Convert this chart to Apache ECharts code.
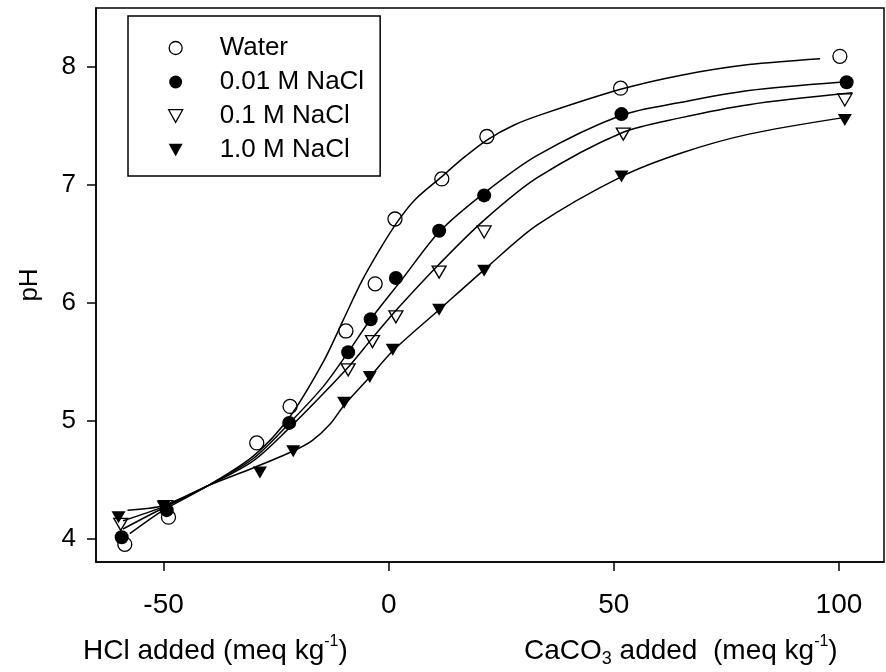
<!DOCTYPE html>
<html>
<head>
<meta charset="utf-8">
<script src="https://cdn.jsdelivr.net/npm/echarts@6/dist/echarts.min.js"></script>
<style>
  html, body { margin: 0; padding: 0; background: #fff; }
  #chart { width: 886px; height: 672px; }
</style>
</head>
<body>
<div id="chart"></div>
<script>
// measured points: [added (meq/kg, HCl < 0, CaCO3 > 0), pH]
const waterPts = [[-58.6, 3.95], [-48.9, 4.18], [-29.3, 4.81], [-21.9, 5.12], [-9.5, 5.76], [-3.0, 6.16],
  [1.4, 6.71], [11.8, 7.05], [21.8, 7.41], [51.5, 7.82], [100.2, 8.09]];
const nacl001Pts = [[-59.3, 4.01], [-49.3, 4.24], [-22.1, 4.98], [-9.0, 5.58], [-4.0, 5.86], [1.6, 6.21],
  [11.2, 6.61], [21.2, 6.91], [51.7, 7.60], [101.7, 7.87]];
const nacl01Pts = [[-59.5, 4.12], [-49.5, 4.27], [-9.0, 5.43], [-3.6, 5.67], [1.6, 5.88], [11.2, 6.26],
  [21.2, 6.60], [52.1, 7.43], [101.3, 7.72]];
const nacl10Pts = [[-60.0, 4.18], [-50.0, 4.27], [-28.6, 4.56], [-21.2, 4.74], [-9.9, 5.15], [-4.2, 5.37],
  [0.9, 5.60], [11.2, 5.94], [21.2, 6.27], [51.7, 7.07], [101.3, 7.55]];

// fitted curves
const waterFit = [[-57.5, 4.04], [-50, 4.24], [-40, 4.45], [-30, 4.70], [-22, 5.03], [-14.5, 5.50],
  [-10, 5.86], [-6, 6.18], [-2, 6.45], [2, 6.69], [6, 6.88], [11.8, 7.07], [16, 7.21], [21.8, 7.38],
  [28, 7.51], [35, 7.61], [51.5, 7.81], [65, 7.93], [80, 8.02], [95.8, 8.07]];
const nacl001Fit = [[-59, 4.08], [-50, 4.26], [-40, 4.45], [-30, 4.68], [-22, 4.98], [-14.5, 5.29],
  [-9, 5.58], [-4, 5.86], [3, 6.20], [11.2, 6.60], [21.2, 6.93], [33, 7.25],
  [51.7, 7.59], [65, 7.70], [80, 7.80], [100.2, 7.87]];
const nacl01Fit = [[-59, 4.15], [-50, 4.27], [-40, 4.45], [-30, 4.66], [-22, 4.94], [-14.5, 5.23],
  [-8.6, 5.47], [-3.4, 5.71], [2, 5.95], [11.3, 6.33], [21.2, 6.70], [33, 7.06],
  [51.7, 7.44], [65, 7.57], [80, 7.68], [103, 7.78]];
const nacl10Fit = [[-58, 4.24], [-50, 4.28], [-40, 4.45], [-30, 4.60], [-21.3, 4.74], [-17, 4.83],
  [-13, 4.97], [-9.9, 5.13], [-4.2, 5.37], [0.9, 5.59], [11.2, 5.94], [21.8, 6.30], [33, 6.66],
  [51.7, 7.07], [65, 7.27], [80, 7.43], [101, 7.57]];

const names = ["Water", "0.01 M NaCl", "0.1 M NaCl", "1.0 M NaCl"];
const xTicks = [-50, 0, 50, 100];
const yTicks = [4, 5, 6, 7, 8];

const TRI = "path://M0,0L10,0L5,9Z";
const narrow = '"Liberation Sans Narrow", "Arial Narrow", Arial, sans-serif';
const regular = '"Liberation Sans", Arial, sans-serif';

const markStyles = [
  { symbol: "circle", size: 14, item: { color: "rgba(0,0,0,0)", borderColor: "#000", borderWidth: 1.3, opacity: 1 } },
  { symbol: "circle", size: 14, item: { color: "#000", opacity: 1 } },
  { symbol: TRI, size: [14, 12], item: { color: "rgba(0,0,0,0)", borderColor: "#000", borderWidth: 1.3, opacity: 1 } },
  { symbol: TRI, size: [14, 12], item: { color: "#000", opacity: 1 } },
];

const pts = [waterPts, nacl001Pts, nacl01Pts, nacl10Pts];
const fits = [waterFit, nacl001Fit, nacl01Fit, nacl10Fit];

const chart = echarts.init(document.getElementById("chart"));

const series = [];
fits.forEach((f, i) => {
  series.push({
    name: names[i] + " fit",
    type: "line",
    data: f,
    smooth: 0.3,
    showSymbol: false,
    silent: true,
    z: 2,
    lineStyle: { color: "#000", width: 1.5 },
  });
});
pts.forEach((p, i) => {
  series.push({
    name: names[i],
    type: "scatter",
    data: p,
    symbol: markStyles[i].symbol,
    symbolSize: markStyles[i].size,
    itemStyle: markStyles[i].item,
    z: 3,
  });
});

chart.setOption({
  backgroundColor: "#fff",
  animation: false,
  grid: {
    left: 96, right: 2, top: 8, bottom: 110,
    show: true, borderColor: "#000", borderWidth: 1.5,
  },
  legend: {
    left: 128, top: 16,
    orient: "vertical",
    backgroundColor: "#fff",
    borderColor: "#000",
    borderWidth: 1.5,
    borderRadius: 0,
    padding: [19, 16, 13, 40],
    itemWidth: 14,
    itemHeight: 13,
    itemGap: 8,
    selectedMode: false,
    textStyle: { fontFamily: regular, fontSize: 26, color: "#000", lineHeight: 26, padding: [0, 0, 0, 32] },
    data: names.map((n, i) => ({
      name: n,
      icon: markStyles[i].symbol,
      itemStyle: markStyles[i].item.borderColor
        ? { color: "rgba(0,0,0,0)", borderColor: "#000", borderWidth: 1.3, opacity: 1 }
        : { color: "#000", borderWidth: 0, opacity: 1 },
    })),
  },
  xAxis: {
    type: "value",
    min: -65, max: 110,
    axisLine: { show: true, onZero: false, lineStyle: { color: "#000", width: 1.5 } },
    axisTick: { show: true, inside: false, length: 9, customValues: xTicks, lineStyle: { color: "#000", width: 1.5 } },
    axisLabel: { customValues: xTicks, margin: 29, color: "#000", fontFamily: narrow, fontSize: 28 },
    splitLine: { show: false },
  },
  yAxis: {
    type: "value",
    min: 3.8, max: 8.5,
    name: "pH",
    nameLocation: "middle",
    nameGap: 53,
    nameTextStyle: { fontFamily: regular, fontSize: 26, color: "#000" },
    axisLine: { show: true, onZero: false, lineStyle: { color: "#000", width: 1.5 } },
    axisTick: { show: true, inside: false, length: 9, customValues: yTicks, lineStyle: { color: "#000", width: 1.5 } },
    axisLabel: { customValues: yTicks, margin: 20, color: "#000", fontFamily: regular, fontSize: 26 },
    splitLine: { show: false },
  },
  graphic: [
    {
      type: "text", x: 83, y: 651,
      style: {
        text: "{a|HCl added (meq kg}{s|-1}{a|)}",
        textVerticalAlign: "middle",
        rich: {
          a: { fontFamily: narrow, fontSize: 28, lineHeight: 34, fill: "#000" },
          s: { fontFamily: narrow, fontSize: 16, lineHeight: 16, verticalAlign: "top", fill: "#000" },
        },
      },
    },
    {
      type: "text", x: 524, y: 651,
      style: {
        text: "{a|CaCO}{b|3}{a| added  (meq kg}{s|-1}{a|)}",
        textVerticalAlign: "middle",
        rich: {
          a: { fontFamily: narrow, fontSize: 28, lineHeight: 34, fill: "#000" },
          b: { fontFamily: narrow, fontSize: 18, lineHeight: 18, verticalAlign: "bottom", fill: "#000" },
          s: { fontFamily: narrow, fontSize: 16, lineHeight: 16, verticalAlign: "top", fill: "#000" },
        },
      },
    },
  ],
  series: series,
});
</script>
</body>
</html>
